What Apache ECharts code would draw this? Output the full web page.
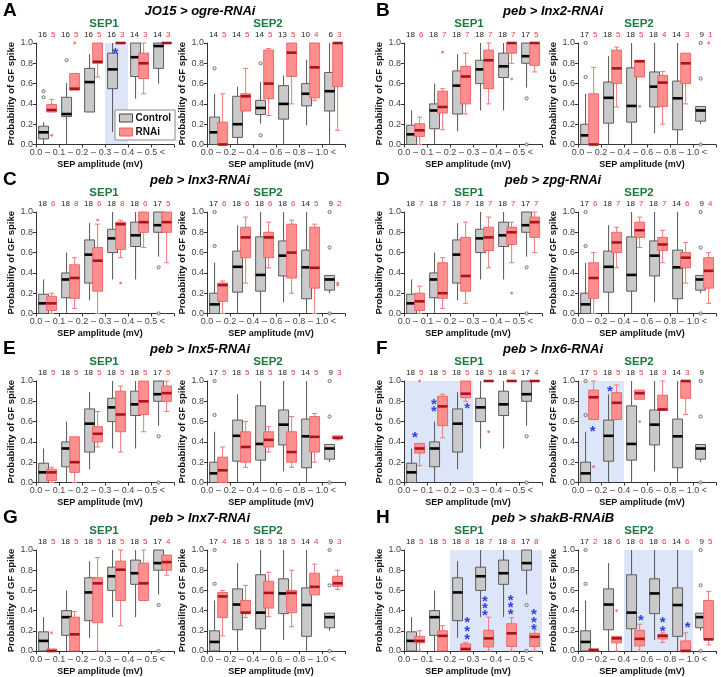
<!DOCTYPE html>
<html><head><meta charset="utf-8">
<script src="https://cdn.jsdelivr.net/npm/echarts@6/dist/echarts.min.js"></script>
<style>html,body{margin:0;padding:0;background:#fff}#c{width:721px;height:677px}</style>
</head><body><div id="c"></div>
<script>
// ---------- DATA (box = [min, q1, median, q3, max]) ----------
const sep1Ticks = ['0.0','0.1','0.2','0.3','0.4','0.5'];
const sep2Ticks = ['0.0','0.2','0.4','0.6','0.8','1.0'];

// Control for peb > ... panels (B–H share the same controls)
const pebCtrl1 = [[0,0,0.10,0.19,0.335],[0,0.155,0.335,0.40,0.60],[0.13,0.30,0.58,0.725,0.89],[0.335,0.60,0.74,0.83,1.0],[0.335,0.66,0.77,0.90,1.0],[0.56,0.80,0.87,1.0,1.0]];
const pebCtrl1Out = [[],[],[],[],[],[0.455,0.0]];
const pebCtrl2 = [[0,0,0.09,0.20,0.50],[0,0.21,0.46,0.615,0.87],[0,0.22,0.38,0.755,1.0],[0.11,0.37,0.57,0.715,1.0],[0,0.145,0.455,0.625,1.0],[0.20,0.23,0.335,0.375,0.375]];
const pebCtrl2Out = [[0.665,1.0],[],[],[],[],[1.0,0.65,0.0]];
const pebN1 = [18,18,18,18,18,17];
const pebN2 = [17,18,18,18,14,9];

// Control for JO15 > ogre-RNAi
const joCtrl1 = [[0,0.055,0.12,0.18,0.22],[0,0.275,0.30,0.465,0.605],[0.32,0.32,0.615,0.75,0.89],[0.125,0.55,0.74,0.90,1.0],[0.45,0.67,0.86,1.0,1.0],[0.60,0.75,0.97,1.0,1.0]];
const joCtrl1Out = [[0.525,0.465],[0.83],[],[],[],[]];
const joCtrl2 = [[0,0,0.12,0.27,0.50],[0,0.07,0.20,0.475,0.57],[0.205,0.295,0.36,0.435,0.615],[0,0.25,0.40,0.58,0.68],[0.19,0.38,0.50,0.60,0.835],[0,0.33,0.525,0.71,1.0]];
const joCtrl2Out = [[0.75],[],[0.80,0.09],[],[],[]];
const joN1 = [16,16,16,16,14,14];
const joN2 = [14,14,14,13,10,6];

// RNAi
const A1 = [[0.32,0.32,0.34,0.395,0.445],[0.535,0.535,0.55,0.70,0.70],[0.665,0.80,0.815,1.0,1.0],[1,1,1,1,1],[0.50,0.65,0.80,0.90,1.0],[1,1,1,1,1]];
const A1out = [[0.09],[1.0],[],[],[],[]];
const A1n = [5,5,5,3,3,3];
const A2 = [[0,0,0,0.22,0.50],[0.33,0.33,0.475,0.50,0.75],[0.285,0.45,0.60,0.93,0.945],[0.40,0.67,0.905,1.0,1.0],[0.435,0.46,0.76,1.0,1.0],[0.14,0.57,1.0,1.0,1.0]];
const A2out = [[],[],[],[],[],[]];
const A2n = [5,5,5,5,4,3];

const B1 = [[0,0.08,0.14,0.205,0.27],[0.145,0.31,0.37,0.525,0.55],[0.30,0.40,0.67,0.77,0.90],[0.40,0.55,0.83,0.93,1.0],[0.80,0.90,1.0,1.0,1.0],[0.715,0.78,1.0,1.0,1.0]];
const B1out = [[],[0.91],[],[],[0.645],[]];
const B1n = [6,7,7,7,7,5];
const B2 = [[0,0,0,0.50,0.76],[0.37,0.60,0.75,0.93,0.96],[0.665,0.665,0.82,0.83,0.83],[0.20,0.375,0.61,0.68,0.72],[0.40,0.60,0.80,0.90,0.90],null];
const B2out = [[],[],[0.375],[],[],[1.0]];
const B2n = [5,5,5,4,3,1];

const C1 = [[0,0.03,0.10,0.17,0.20],[0.05,0.15,0.35,0.48,0.55],[0,0.22,0.52,0.65,0.88],[0.55,0.63,0.88,0.90,0.92],[0.65,0.80,0.90,1.0,1.0],[0.50,0.80,0.90,1.0,1.0]];
const C1out = [[],[],[0.92],[0.30],[],[]];
const C1n = [6,8,6,8,6,5];
const C2 = [[0,0.12,0.28,0.30,0.32],[0.30,0.55,0.75,0.85,0.95],[0.45,0.55,0.75,0.80,0.90],[0.20,0.35,0.60,0.88,0.92],[0,0.25,0.45,0.85,0.88],null];
const C2out = [[],[],[],[],[],[0.30,0.28]];
const C2n = [6,6,6,6,5,2];

const D1 = [[0,0.03,0.12,0.20,0.27],[0.05,0.15,0.20,0.50,0.55],[0.10,0.22,0.37,0.75,0.90],[0.45,0.62,0.75,0.85,0.95],[0.50,0.68,0.80,0.85,0.90],[0.60,0.75,0.90,0.95,1.0]];
const D1out = [[],[],[],[],[0.20],[]];
const D1n = [7,7,7,7,7,7];
const D2 = [[0,0.15,0.35,0.50,0.60],[0.45,0.60,0.70,0.80,0.85],[0.65,0.75,0.82,0.90,0.95],[0.50,0.62,0.68,0.75,0.82],[0.30,0.45,0.55,0.60,0.70],[0.10,0.25,0.42,0.55,0.60]];
const D2out = [[],[],[],[],[],[]];
const D2n = [6,7,7,7,6,4];

const E1 = [[0,0.02,0.10,0.13,0.15],[0,0.10,0.20,0.45,0.45],[0.35,0.40,0.48,0.55,0.70],[0.30,0.50,0.67,0.90,0.95],[0.50,0.67,0.80,1.0,1.0],[0.70,0.80,0.88,0.95,1.0]];
const E1out = [[],[],[],[],[],[]];
const E1n = [5,5,5,5,5,5];
const E2 = [[0,0,0.12,0.25,0.35],[0.15,0.20,0.35,0.50,0.60],[0.30,0.35,0.42,0.50,0.55],[0.15,0.20,0.30,0.50,0.65],[0.20,0.30,0.45,0.65,0.68],[0.42,0.43,0.44,0.46,0.46]];
const E2out = [[],[],[],[],[],[]];
const E2n = [5,5,5,5,5,3];

const F1 = [[0.165,0.29,0.335,0.385,0.385],[0.44,0.56,0.75,0.85,0.87],[0.80,0.835,0.875,1.0,1.0],[1,1,1,1,1],[1,1,1,1,1],[1,1,1,1,1]];
const F1out = [[1.0],[],[],[0.50],[],[]];
const F1n = [5,5,5,5,4,4];
const F2 = [[0.62,0.62,0.84,0.91,1.0],[0.62,0.62,0.785,0.885,0.96],[0.82,0.82,0.88,0.91,0.91],[0.71,0.71,0.72,0.86,1.0],[0.67,0.83,1.0,1.0,1.0],null];
const F2out = [[0.155],[],[0.60],[],[],[]];
const F2n = [5,5,5,3,3,null];

const G1 = [[0,0,0,0.02,0.02],[0,0,0.165,0.335,0.39],[0,0.28,0.67,0.725,0.925],[0.25,0.50,0.805,0.89,1.0],[0.50,0.50,0.67,0.87,1.0],[0.75,0.80,0.88,0.95,0.95]];
const G1out = [[0.18],[],[],[],[],[]];
const G1n = [5,5,5,5,5,4];
const G2 = [[0.15,0.33,0.54,0.58,0.60],[0.33,0.37,0.38,0.50,0.65],[0.34,0.425,0.575,0.69,0.78],[0.24,0.38,0.575,0.60,0.80],[0.555,0.555,0.635,0.77,0.86],[0.61,0.64,0.67,0.74,0.80]];
const G2out = [[],[],[],[],[],[]];
const G2n = [4,5,5,5,4,3];

const H1 = [[0,0.08,0.10,0.145,0.20],[0,0,0.15,0.20,0.25],[0,0,0.02,0.07,0.085],[0,0.04,0.125,0.205,0.335],[0,0.045,0.175,0.27,0.33],[0,0.045,0.14,0.175,0.215]];
const H1out = [[],[],[],[],[],[]];
const H1n = [5,5,8,7,8,8];
const H2 = [[0,0,0.01,0.02,0.02],[0,0.08,0.125,0.145,0.145],[0,0.05,0.12,0.205,0.265],[0.085,0.12,0.15,0.165,0.18],[0,0,0,0.10,0.18],[0.06,0.12,0.115,0.50,0.59]];
const H2out = [[],[0.40],[],[],[],[]];
const H2n = [2,6,6,6,6,5];

// significance shading (x ranges in category units) and asterisks [x, y]
const A1shade = [[3,4]];
const F1shade = [[0,3]];
const F2shade = [[0,2]];
const H1shade = [[2,6]];
const H2shade = [[2,5]];
const A1stars = [[3.45,0.93]];
const F1stars = [[0.48,0.47],[1.30,0.80],[1.30,0.73],[2.75,0.76]];
const F2stars = [[0.64,0.53],[1.39,0.93]];
const H1stars = [[2.75,0.31],[2.75,0.225],[2.75,0.145],[3.52,0.52],[3.52,0.455],[3.52,0.38],[4.64,0.53],[4.64,0.46],[4.64,0.39],[5.65,0.39],[5.65,0.31],[5.65,0.24]];
const H2stars = [[2.74,0.33],[3.68,0.31],[3.68,0.225],[4.77,0.26]];

const panelLetters = ['A','B','C','D','E','F','G','H'];
const panelTitles = ['JO15 > ogre-RNAi','peb > Inx2-RNAi','peb > Inx3-RNAi','peb > zpg-RNAi','peb > Inx5-RNAi','peb > Inx6-RNAi','peb > Inx7-RNAi','peb > shakB-RNAiB'];

// ---------- LAYOUT ----------
const FONT = '"Liberation Sans", Arial, Helvetica, sans-serif';
const GRID_W = 138, GRID_H = 101.5;
const ROW_TOP = [43, 212, 381, 550];
const COL_LEFT = [[36, 207], [404, 578]];
const LETTER_X = [3, 376];
const TITLE_X = [200, 553];
const SEP_X = [[104, 268], [469, 639]];
const OFF_C = -0.17, OFF_R = 0.18, BOXW = 0.43;

const subplots = [
  {p:0,s:0,ctrl:joCtrl1,cOut:joCtrl1Out,cN:joN1,rnai:A1,rOut:A1out,rN:A1n,shade:A1shade,stars:A1stars},
  {p:0,s:1,ctrl:joCtrl2,cOut:joCtrl2Out,cN:joN2,rnai:A2,rOut:A2out,rN:A2n,shade:[],stars:[]},
  {p:1,s:0,ctrl:pebCtrl1,cOut:pebCtrl1Out,cN:pebN1,rnai:B1,rOut:B1out,rN:B1n,shade:[],stars:[]},
  {p:1,s:1,ctrl:pebCtrl2,cOut:pebCtrl2Out,cN:pebN2,rnai:B2,rOut:B2out,rN:B2n,shade:[],stars:[]},
  {p:2,s:0,ctrl:pebCtrl1,cOut:pebCtrl1Out,cN:pebN1,rnai:C1,rOut:C1out,rN:C1n,shade:[],stars:[]},
  {p:2,s:1,ctrl:pebCtrl2,cOut:pebCtrl2Out,cN:pebN2,rnai:C2,rOut:C2out,rN:C2n,shade:[],stars:[]},
  {p:3,s:0,ctrl:pebCtrl1,cOut:pebCtrl1Out,cN:pebN1,rnai:D1,rOut:D1out,rN:D1n,shade:[],stars:[]},
  {p:3,s:1,ctrl:pebCtrl2,cOut:pebCtrl2Out,cN:pebN2,rnai:D2,rOut:D2out,rN:D2n,shade:[],stars:[]},
  {p:4,s:0,ctrl:pebCtrl1,cOut:pebCtrl1Out,cN:pebN1,rnai:E1,rOut:E1out,rN:E1n,shade:[],stars:[]},
  {p:4,s:1,ctrl:pebCtrl2,cOut:pebCtrl2Out,cN:pebN2,rnai:E2,rOut:E2out,rN:E2n,shade:[],stars:[]},
  {p:5,s:0,ctrl:pebCtrl1,cOut:pebCtrl1Out,cN:pebN1,rnai:F1,rOut:F1out,rN:F1n,shade:F1shade,stars:F1stars},
  {p:5,s:1,ctrl:pebCtrl2,cOut:pebCtrl2Out,cN:pebN2,rnai:F2,rOut:F2out,rN:F2n,shade:F2shade,stars:F2stars},
  {p:6,s:0,ctrl:pebCtrl1,cOut:pebCtrl1Out,cN:pebN1,rnai:G1,rOut:G1out,rN:G1n,shade:[],stars:[]},
  {p:6,s:1,ctrl:pebCtrl2,cOut:pebCtrl2Out,cN:pebN2,rnai:G2,rOut:G2out,rN:G2n,shade:[],stars:[]},
  {p:7,s:0,ctrl:pebCtrl1,cOut:pebCtrl1Out,cN:pebN1,rnai:H1,rOut:H1out,rN:H1n,shade:H1shade,stars:H1stars},
  {p:7,s:1,ctrl:pebCtrl2,cOut:pebCtrl2Out,cN:pebN2,rnai:H2,rOut:H2out,rN:H2n,shade:H2shade,stars:H2stars}
];

const STY = {
  c: {fill:'#c9c9c9', stroke:'#4d4d4d', whisker:'#555', med:'#000', cap:false, off:OFF_C},
  r: {fill:'#ff8e8e', stroke:'#ec5f5f', whisker:'#f07878', med:'#a8141b', cap:true, off:OFF_R}
};

function boxRenderer(st) {
  return function (params, api) {
    const cat = api.value(0);
    const v = [api.value(1), api.value(2), api.value(3), api.value(4), api.value(5)];
    const xc = cat + 0.5 + st.off;
    const unit = api.size([1, 0])[0];
    const bw = unit * BOXW;
    const P = v.map(val => api.coord([xc, val]));
    const x = P[0][0];
    const ch = [];
    const line = (y1, y2, color, w) => ({type:'line', shape:{x1:x, y1:y1, x2:x, y2:y2}, style:{stroke:color, lineWidth:w}});
    if (v[4] > v[3]) ch.push(line(P[4][1], P[3][1], st.whisker, 1));
    if (v[1] > v[0]) ch.push(line(P[1][1], P[0][1], st.whisker, 1));
    if (st.cap) {
      const cw = unit * 0.22;
      if (v[4] > v[3]) ch.push({type:'line', shape:{x1:x-cw/2, y1:P[4][1], x2:x+cw/2, y2:P[4][1]}, style:{stroke:st.whisker, lineWidth:1}});
      if (v[1] > v[0]) ch.push({type:'line', shape:{x1:x-cw/2, y1:P[0][1], x2:x+cw/2, y2:P[0][1]}, style:{stroke:st.whisker, lineWidth:1}});
    }
    ch.push({type:'rect', shape:{x:x-bw/2, y:P[3][1], width:bw, height:Math.max(P[1][1]-P[3][1], 0)}, style:{fill:st.fill, stroke:st.stroke, lineWidth:0.9}});
    ch.push({type:'line', shape:{x1:x-bw/2, y1:P[2][1], x2:x+bw/2, y2:P[2][1]}, style:{stroke:st.med, lineWidth:2.6}});
    return {type:'group', children:ch};
  };
}

const grids = [], xAxes = [], yAxes = [], series = [], graphics = [];

subplots.forEach((sp, g) => {
  const row = Math.floor(sp.p / 2), col = sp.p % 2;
  const ticks = sp.s === 0 ? sep1Ticks : sep2Ticks;
  grids.push({left: COL_LEFT[col][sp.s], top: ROW_TOP[row], width: GRID_W, height: GRID_H});
  xAxes.push({
    gridIndex: g, type: 'value', min: 0, max: 6,
    axisLine: {show: true, onZero: false, lineStyle: {color: '#333', width: 1}},
    axisTick: {show: true, customValues: [0,1,2,3,4,5,6], length: 3, lineStyle: {color: '#333'}},
    axisLabel: {
      customValues: [0,0.5,1,1.5,2,2.5,3,3.5,4,4.5,5,5.5],
      formatter: function (val) {
        const k = Math.round(val * 2);
        if (k % 2 === 0) return ticks[k / 2];
        return k === 11 ? '<' : '–';
      },
      fontSize: 9, color: '#444', margin: 4, fontFamily: FONT
    },
    splitLine: {show: false},
    name: 'SEP amplitude (mV)', nameLocation: 'middle', nameGap: 16,
    nameTextStyle: {fontSize: 9, fontWeight: 'bold', color: '#111', fontFamily: FONT, padding: [0, 10, 0, 0]}
  });
  yAxes.push({
    gridIndex: g, type: 'value', min: 0, max: 1, interval: 0.2,
    axisLine: {show: true, lineStyle: {color: '#333', width: 1}},
    axisTick: {show: true, length: 3, lineStyle: {color: '#333'}},
    axisLabel: {formatter: val => val.toFixed(1), fontSize: 9, color: '#444', margin: 3, fontFamily: FONT},
    splitLine: {show: false},
    name: 'Probability of GF spike', nameLocation: 'middle', nameGap: 19,
    nameTextStyle: {fontSize: 9.5, fontWeight: 'bold', color: '#111', fontFamily: FONT}
  });

  // shading
  series.push({
    type: 'custom', name: 'shade' + g, xAxisIndex: g, yAxisIndex: g, silent: true, z: 0, clip: false,
    data: sp.shade,
    renderItem: function (params, api) {
      const a = api.coord([api.value(0), 1]), b = api.coord([api.value(1), 0]);
      return {type: 'rect', shape: {x: a[0], y: a[1], width: b[0] - a[0], height: b[1] - a[1]}, style: {fill: '#dde6f9'}};
    }
  });
  // boxes
  series.push({
    type: 'custom', name: 'Control', xAxisIndex: g, yAxisIndex: g, z: 2, clip: false, silent: true,
    itemStyle: {color: STY.c.fill},
    data: sp.ctrl.map((b, i) => b ? [i].concat(b) : null).filter(Boolean),
    renderItem: boxRenderer(STY.c)
  });
  series.push({
    type: 'custom', name: 'RNAi', xAxisIndex: g, yAxisIndex: g, z: 3, clip: false, silent: true,
    itemStyle: {color: STY.r.fill},
    data: sp.rnai.map((b, i) => b ? [i].concat(b) : null).filter(Boolean),
    renderItem: boxRenderer(STY.r)
  });
  // outliers
  const cO = [], rO = [];
  sp.cOut.forEach((arr, i) => arr.forEach(v => cO.push([i + 0.5 + OFF_C, v])));
  sp.rOut.forEach((arr, i) => arr.forEach(v => rO.push([i + 0.5 + OFF_R, v])));
  series.push({type: 'scatter', name: 'cout' + g, xAxisIndex: g, yAxisIndex: g, z: 4, silent: true, clip: false,
    symbol: 'circle', symbolSize: 3.2, itemStyle: {color: '#f4f4f4', borderColor: '#444', borderWidth: 0.9}, data: cO});
  series.push({type: 'scatter', name: 'rout' + g, xAxisIndex: g, yAxisIndex: g, z: 4, silent: true, clip: false,
    symbol: 'circle', symbolSize: 2.8, itemStyle: {color: '#f05a5a'}, data: rO});
  // counts
  series.push({
    type: 'custom', name: 'n' + g, xAxisIndex: g, yAxisIndex: g, z: 5, clip: false, silent: true,
    data: sp.cN.map((n, i) => [i, n, sp.rN[i] == null ? -1 : sp.rN[i]]),
    renderItem: function (params, api) {
      const pt = api.coord([api.value(0) + 0.5, 1]);
      const b = api.value(2);
      return {type: 'group', children: [
        {type: 'text', x: pt[0] - 0.5, y: pt[1] - 8, style: {text: String(api.value(1)), fill: '#222', fontSize: 8, fontFamily: FONT, align: 'right', verticalAlign: 'middle'}},
        {type: 'text', x: pt[0] + 3.5, y: pt[1] - 8, style: {text: b < 0 ? '' : String(b), fill: '#e23a3a', fontSize: 8, fontFamily: FONT, align: 'left', verticalAlign: 'middle'}}
      ]};
    }
  });
  // asterisks
  series.push({
    type: 'custom', name: 'star' + g, xAxisIndex: g, yAxisIndex: g, z: 6, clip: false, silent: true,
    data: sp.stars,
    renderItem: function (params, api) {
      const pt = api.coord([api.value(0), api.value(1)]);
      return {type: 'text', x: pt[0], y: pt[1] + 3.5, style: {text: '*', fill: '#2f3fe0', fontSize: 15, fontWeight: 'bold', fontFamily: FONT, align: 'center', verticalAlign: 'middle'}};
    }
  });
  // SEP label
  graphics.push({type: 'text', x: SEP_X[col][sp.s], y: row * 169 + 24, style: {text: sp.s === 0 ? 'SEP1' : 'SEP2', fill: '#1d7a3f', fontSize: 11.5, fontWeight: 'bold', fontFamily: FONT, align: 'center', verticalAlign: 'middle'}});
});

panelLetters.forEach((L, p) => {
  const row = Math.floor(p / 2), col = p % 2;
  graphics.push({type: 'text', x: LETTER_X[col], y: row * 169 + 11, style: {text: L, fill: '#000', fontSize: 19, fontWeight: 'bold', fontFamily: FONT, align: 'left', verticalAlign: 'middle'}});
  graphics.push({type: 'text', x: TITLE_X[col], y: row * 169 + 11, style: {text: panelTitles[p], fill: '#000', fontSize: 13, fontWeight: 'bold', fontStyle: 'italic', fontFamily: FONT, align: 'center', verticalAlign: 'middle'}});
});

const chart = echarts.init(document.getElementById('c'), null, {renderer: 'canvas'});
chart.setOption({
  animation: false,
  backgroundColor: '#fff',
  textStyle: {fontFamily: FONT},
  grid: grids, xAxis: xAxes, yAxis: yAxes, series: series,
  graphic: graphics,
  legend: {
    show: true, orient: 'vertical', left: 115, top: 110, itemWidth: 13, itemHeight: 8, itemGap: 4,
    padding: [3, 4, 3, 4], borderColor: '#888', borderWidth: 1, backgroundColor: '#fff', selectedMode: false,
    textStyle: {fontSize: 10, fontWeight: 'bold', color: '#111', fontFamily: FONT, padding: [0, 0, 0, -2]},
    data: [
      {name: 'Control', icon: 'rect', itemStyle: {color: '#c9c9c9', borderColor: '#444', borderWidth: 1}},
      {name: 'RNAi', icon: 'rect', itemStyle: {color: '#ff8e8e', borderColor: '#ec5f5f', borderWidth: 1}}
    ]
  }
});
</script></body></html>
